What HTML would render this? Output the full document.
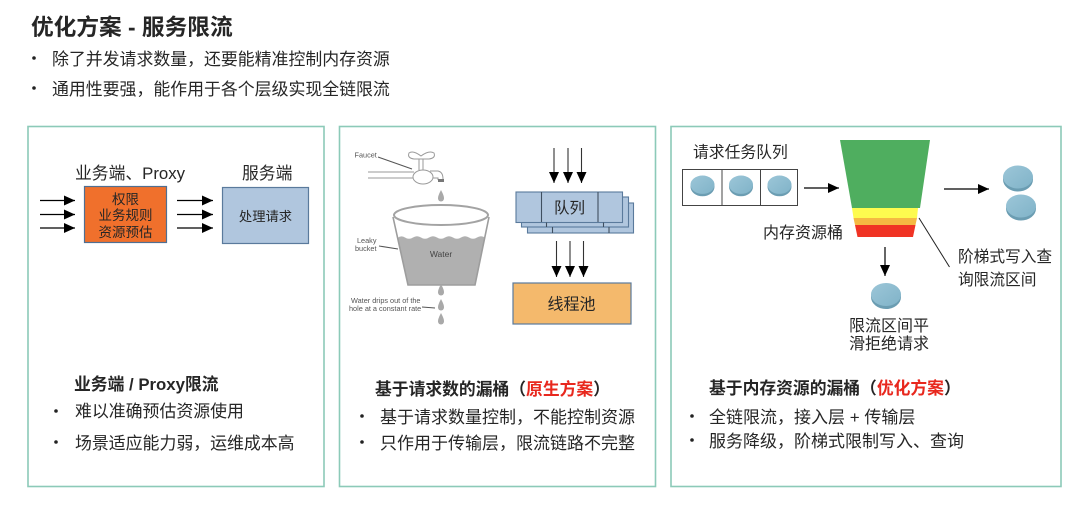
<!DOCTYPE html>
<html><head><meta charset="utf-8">
<style>
html,body{margin:0;padding:0;background:#fff}
svg{display:block}
text{font-family:"Liberation Sans","Noto Sans CJK SC",sans-serif;fill:#262626}
</style></head><body>
<svg width="1080" height="519" viewBox="0 0 1080 519" xmlns="http://www.w3.org/2000/svg">
<defs>
<marker id="a" markerWidth="11" markerHeight="11" refX="11" refY="5" orient="auto" markerUnits="userSpaceOnUse" viewBox="0 0 11 10"><path d="M0 0L11 5L0 10Z" fill="#000"/></marker>
<linearGradient id="dg" x1="0" y1="0" x2="1" y2="1"><stop offset="0" stop-color="#9cc6d8"/><stop offset="1" stop-color="#80b3c8"/></linearGradient>
<g id="disc">
<ellipse cx="0" cy="1.500" rx="15" ry="12" fill="#6b9db2"/>
<ellipse cx="0" cy="-1" rx="15" ry="11.500" fill="url(#dg)"/>
</g>
<path id="drop" d="M0 -6C2 -2 3 0 3 2.500A3 3 0 0 1 -3 2.500C-3 0 -2 -2 0 -6Z" fill="#a9a9a9"/>
</defs>
<rect width="1080" height="519" fill="#fff"/>

<text x="31" y="35" font-size="22.700" font-weight="700" fill="#1a1a1a">优化方案 - 服务限流</text>
<circle cx="34" cy="58" r="1.800" fill="#222"/>
<text x="52" y="65" font-size="16.900">除了并发请求数量，还要能精准控制内存资源</text>
<circle cx="34" cy="88" r="1.800" fill="#222"/>
<text x="52" y="95" font-size="16.900">通用性要强，能作用于各个层级实现全链限流</text>

<g fill="none" stroke="#8ccab8" stroke-width="1.600">
<rect x="28" y="126.500" width="296" height="360"/>
<rect x="339.500" y="126.500" width="316" height="360"/>
<rect x="671" y="126.500" width="390" height="360"/>
</g>

<!-- Panel 1 -->
<text x="75" y="179" font-size="16.800">业务端、Proxy</text>
<text x="242" y="179" font-size="16.800">服务端</text>
<rect x="84.500" y="186.500" width="82" height="56" fill="#f0702c" stroke="#4f6f92" stroke-width="1.200"/>
<text x="125.500" y="204" font-size="13.500" text-anchor="middle" fill="#1f1f1f">权限</text>
<text x="125.500" y="220" font-size="13.500" text-anchor="middle" fill="#1f1f1f">业务规则</text>
<text x="125.500" y="237" font-size="13.500" text-anchor="middle" fill="#1f1f1f">资源预估</text>
<rect x="222.500" y="187.500" width="86" height="56" fill="#b0c6de" stroke="#5a7a9c" stroke-width="1.200"/>
<text x="265.500" y="221" font-size="13.300" text-anchor="middle" fill="#1f1f1f">处理请求</text>
<g stroke="#000" stroke-width="1.200">
<line x1="40" y1="200.500" x2="75" y2="200.500" marker-end="url(#a)"/>
<line x1="40" y1="214.500" x2="75" y2="214.500" marker-end="url(#a)"/>
<line x1="40" y1="228" x2="75" y2="228" marker-end="url(#a)"/>
<line x1="177" y1="200.500" x2="213" y2="200.500" marker-end="url(#a)"/>
<line x1="177" y1="214.500" x2="213" y2="214.500" marker-end="url(#a)"/>
<line x1="177" y1="228" x2="213" y2="228" marker-end="url(#a)"/>
</g>
<text x="74" y="390" font-size="16.800" font-weight="700" fill="#111">业务端 / Proxy限流</text>
<circle cx="56" cy="411" r="1.800" fill="#222"/>
<text x="75" y="417" font-size="16.900">难以准确预估资源使用</text>
<circle cx="56" cy="442" r="1.800" fill="#222"/>
<text x="75" y="449" font-size="16.900">场景适应能力弱，运维成本高</text>

<!-- Panel 2: leaky bucket -->
<g font-size="7.300">
<text x="354.500" y="157.500" style="fill:#555">Faucet</text>
<text x="357" y="243" style="fill:#555">Leaky</text>
<text x="355" y="251" style="fill:#555">bucket</text>
<text x="351" y="303" style="fill:#555">Water drips out of the</text>
<text x="349" y="311" style="fill:#555">hole at a constant rate</text>
</g>
<g fill="none" stroke="#9a9a9a" stroke-width="1">
<line x1="368" y1="172" x2="414" y2="172"/>
<line x1="368" y1="178" x2="414" y2="178"/>
<path d="M419 158V170M423 158V170" />
<path d="M430 171H438Q443 172 443 179M432 178H438V180"/>
<ellipse cx="423" cy="177" rx="10" ry="7" fill="#fff"/>
<path d="M409 153Q413 150 421 156Q429 150 434 153Q436 158 429 159H414Q407 158 409 153Z" fill="#fff"/>
<line x1="378" y1="157" x2="412" y2="169" stroke="#555"/>
<line x1="379" y1="246" x2="398" y2="249" stroke="#555"/>
<line x1="422" y1="307" x2="435" y2="308" stroke="#555"/>
</g>
<rect x="438" y="179" width="6" height="3" fill="#777"/>
<use href="#drop" x="441" y="196"/>
<path d="M397.500 238Q401 235 405 237.500T413 237.500T421 237.500T429 237.500T437 237.500T445 237.500T453 237.500T461 237.500T469 237.500T477 237.500T485 237.500L475 285H408Z" fill="#b0b0b0"/>
<path d="M393 217L408 285H475L489 217" fill="none" stroke="#9d9d9d" stroke-width="1.600"/>
<ellipse cx="441" cy="215" rx="47" ry="10" fill="#fff" stroke="#a3a3a3" stroke-width="2"/>
<text x="441" y="257" font-size="8.500" text-anchor="middle" style="fill:#444">Water</text>
<use href="#drop" x="441" y="290"/>
<use href="#drop" x="441" y="305"/>
<use href="#drop" x="441" y="319"/>

<!-- Queue -->
<g stroke="#333" stroke-width="1.100">
<line x1="554" y1="148" x2="554" y2="183" marker-end="url(#a)"/>
<line x1="568" y1="148" x2="568" y2="183" marker-end="url(#a)"/>
<line x1="581.500" y1="148" x2="581.500" y2="183" marker-end="url(#a)"/>
<line x1="556.500" y1="241" x2="556.500" y2="277" marker-end="url(#a)"/>
<line x1="570" y1="241" x2="570" y2="277" marker-end="url(#a)"/>
<line x1="583.500" y1="241" x2="583.500" y2="277" marker-end="url(#a)"/>
</g>
<g fill="#b0c6de" stroke="#5a7a9c" stroke-width="1.100">
<rect x="527.500" y="203" width="106" height="30"/>
<rect x="521.500" y="197" width="107" height="30"/>
<rect x="516" y="192" width="106.500" height="30.500"/>
</g>
<g stroke="#3f4f60" stroke-width="1.100">
<line x1="541.500" y1="192" x2="541.500" y2="222"/>
<line x1="598" y1="192" x2="598" y2="222"/>
<line x1="546.500" y1="222.500" x2="546.500" y2="227"/>
<line x1="603.500" y1="222.500" x2="603.500" y2="227"/>
<line x1="552.500" y1="227" x2="552.500" y2="233"/>
<line x1="609" y1="227" x2="609" y2="233"/>
</g>
<text x="569.500" y="213" font-size="15.500" text-anchor="middle">队列</text>
<rect x="513" y="283" width="118" height="41" fill="#f4b96c" stroke="#5a7a9c" stroke-width="1.200"/>
<text x="571.500" y="309.500" font-size="16" text-anchor="middle">线程池</text>

<text x="375" y="395" font-size="16.800" font-weight="700" fill="#111">基于请求数的漏桶（<tspan style="fill:#e8281e">原生方案</tspan>）</text>
<circle cx="362" cy="416" r="1.800" fill="#222"/>
<text x="380" y="423" font-size="17">基于请求数量控制，不能控制资源</text>
<circle cx="362" cy="442" r="1.800" fill="#222"/>
<text x="380" y="449" font-size="17">只作用于传输层，限流链路不完整</text>

<!-- Panel 3 -->
<text x="693" y="157.500" font-size="15.800">请求任务队列</text>
<rect x="682.500" y="169.500" width="115" height="36" fill="#fff" stroke="#444" stroke-width="1"/>
<line x1="722" y1="169.500" x2="722" y2="205.500" stroke="#444"/>
<line x1="760.500" y1="169.500" x2="760.500" y2="205.500" stroke="#444"/>
<use href="#disc" transform="translate(702.500 185.500) scale(.8)"/>
<use href="#disc" transform="translate(741 185.500) scale(.8)"/>
<use href="#disc" transform="translate(779.500 185.500) scale(.8)"/>
<line x1="804" y1="188" x2="839" y2="188" stroke="#000" stroke-width="1.200" marker-end="url(#a)"/>

<path d="M840 140H930L920 208H852Z" fill="#4fae5f"/>
<path d="M852 208H918L917 218H853.500Z" fill="#fdfb4f"/>
<path d="M853.500 218H917L915.500 225H855Z" fill="#f5b942"/>
<path d="M855 225H915.500L913 237H857.500Z" fill="#f03324"/>
<text x="763" y="238" font-size="16">内存资源桶</text>
<line x1="944" y1="189" x2="989" y2="189" stroke="#000" stroke-width="1.200" marker-end="url(#a)"/>
<use href="#disc" transform="translate(1018 178)"/>
<use href="#disc" transform="translate(1021 207)"/>
<line x1="885" y1="247" x2="885" y2="276" stroke="#000" stroke-width="1.200" marker-end="url(#a)"/>
<use href="#disc" transform="translate(886 295.500)"/>
<line x1="919" y1="218" x2="949.500" y2="267" stroke="#222" stroke-width="1"/>
<text x="958" y="262" font-size="15.700">阶梯式写入查</text>
<text x="958" y="285" font-size="15.700">询限流区间</text>
<text x="849" y="331" font-size="16">限流区间平</text>
<text x="849" y="349" font-size="16">滑拒绝请求</text>

<text x="709" y="394" font-size="16.800" font-weight="700" fill="#111">基于内存资源的漏桶（<tspan style="fill:#e8281e">优化方案</tspan>）</text>
<circle cx="692" cy="416" r="1.800" fill="#222"/>
<text x="709" y="423" font-size="17">全链限流，接入层 + 传输层</text>
<circle cx="692" cy="440" r="1.800" fill="#222"/>
<text x="709" y="447" font-size="17">服务降级，阶梯式限制写入、查询</text>
</svg>
</body></html>
